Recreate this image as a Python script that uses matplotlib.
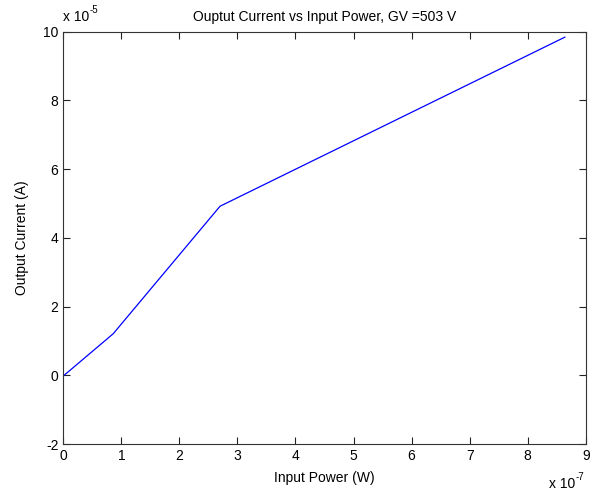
import numpy as np
import matplotlib
matplotlib.use('Agg')
import matplotlib.pyplot as plt
from matplotlib.ticker import FuncFormatter, MultipleLocator

# Datos
potencia_entrada = np.array([0.0, 0.86e-7, 2.70e-7, 8.64e-7])    # W
corriente_salida = np.array([-0.02e-5, 1.21e-5, 4.92e-5, 9.84e-5])  # A

titulo = 'Ouptut Current vs Input Power, GV =503 V'
etiqueta_x = 'Input Power (W)'
etiqueta_y = 'Output Current (A)'

plt.rcParams['font.family'] = ['Liberation Sans', 'DejaVu Sans']
plt.rcParams['font.size'] = 10

fig = plt.figure(figsize=(5.95, 4.95), dpi=100)
ax = fig.add_axes([0.1064, 0.1030, 0.8780, 0.8330])

ax.plot(potencia_entrada, corriente_salida, color='#0000ff', linewidth=0.9)

ax.set_xlim(0, 9e-7)
ax.set_ylim(-2e-5, 10e-5)
ax.xaxis.set_major_locator(MultipleLocator(1e-7))
ax.yaxis.set_major_locator(MultipleLocator(2e-5))
ax.xaxis.set_major_formatter(FuncFormatter(lambda v, p: '%g' % round(v / 1e-7, 6)))
ax.yaxis.set_major_formatter(FuncFormatter(lambda v, p: '%g' % round(v / 1e-5, 6)))

ax.tick_params(direction='in', length=5, width=0.8, top=True, right=True,
               colors='#222222', labelcolor='black', labelsize=10)
for lado in ax.spines.values():
    lado.set_color('#333333')
    lado.set_linewidth(0.8)


# Multiplicadores al estilo MATLAB (exponente con guion normal)
def multiplicador(x, y, exponente):
    t = fig.text(x, y, 'x 10', ha='left', va='baseline', fontsize=10)
    ax.annotate(exponente, xy=(1, 1), xycoords=t, xytext=(0.5, 0), textcoords='offset points',
                ha='left', va='center', fontsize=7)


multiplicador(63 / 595, 1 - 21 / 495, '-5')
multiplicador(549 / 595, 1 - 488 / 495, '-7')

ax.set_title(titulo, fontsize=10, pad=8)
ax.set_xlabel(etiqueta_x, fontsize=10, labelpad=6)
ax.set_ylabel(etiqueta_y, fontsize=10, labelpad=10)

fig.savefig('out.png', dpi=100)
